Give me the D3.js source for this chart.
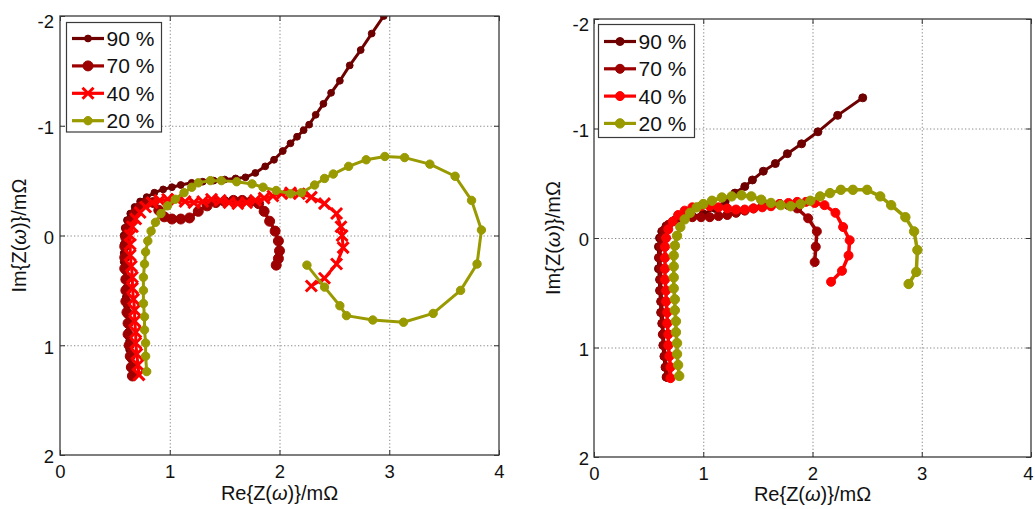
<!DOCTYPE html>
<html><head><meta charset="utf-8">
<script src="https://cdn.jsdelivr.net/npm/d3@7"></script>
<style>
body{margin:0;background:#fff;}
svg{display:block;font-family:"Liberation Sans",Arial,Helvetica,sans-serif;}
</style></head>
<body>
<svg id="chart" width="1035" height="509"></svg>
<script>
// ---------- data ----------
const seriesLabels = ["90 %", "70 %", "40 %", "20 %"];
const xTicks = [0, 1, 2, 3, 4];
const yTicks = [-2, -1, 0, 1, 2];
const xTickLabels = ["0", "1", "2", "3", "4"];
const yTickLabels = ["-2", "-1", "0", "1", "2"];

// Left panel: [Re, Im] in mOhm
const left90 = [[0.65,1.28],[0.64,1.2],[0.64,1.12],[0.63,1.04],[0.63,0.96],[0.62,0.88],[0.62,0.8],[0.61,0.72],[0.61,0.64],[0.6,0.56],[0.6,0.48],[0.59,0.4],[0.59,0.32],[0.58,0.24],[0.58,0.16],[0.58,0.08],[0.58,0.0],[0.59,-0.07],[0.61,-0.14],[0.64,-0.2],[0.68,-0.26],[0.73,-0.31],[0.79,-0.35],[0.86,-0.39],[0.94,-0.42],[1.02,-0.44],[1.1,-0.46],[1.2,-0.48],[1.3,-0.49],[1.4,-0.5],[1.5,-0.51],[1.6,-0.52],[1.69,-0.53],[1.78,-0.57],[1.87,-0.63],[1.95,-0.69],[2.03,-0.77],[2.1,-0.84],[2.16,-0.9],[2.22,-0.96],[2.27,-1.01],[2.33,-1.1],[2.4,-1.2],[2.47,-1.3],[2.55,-1.41],[2.64,-1.55],[2.74,-1.69],[2.84,-1.84],[2.95,-2.0],[3.0,-2.08]];
const left70 = [[0.66,1.28],[0.65,1.2],[0.64,1.1],[0.63,1.0],[0.62,0.9],[0.62,0.8],[0.61,0.7],[0.6,0.6],[0.6,0.5],[0.6,0.4],[0.59,0.3],[0.59,0.2],[0.59,0.1],[0.6,0.02],[0.61,-0.06],[0.64,-0.13],[0.68,-0.2],[0.73,-0.26],[0.79,-0.3],[0.85,-0.3],[0.9,-0.23],[0.95,-0.17],[1.02,-0.15],[1.1,-0.15],[1.18,-0.16],[1.26,-0.22],[1.34,-0.27],[1.42,-0.3],[1.5,-0.31],[1.58,-0.32],[1.66,-0.32],[1.74,-0.31],[1.81,-0.29],[1.86,-0.22],[1.91,-0.13],[1.96,-0.04],[1.99,0.05],[2.0,0.14],[1.99,0.21],[1.97,0.27]];
const left40 = [[0.72,1.27],[0.71,1.18],[0.7,1.08],[0.69,0.98],[0.69,0.88],[0.68,0.78],[0.68,0.68],[0.67,0.58],[0.66,0.48],[0.66,0.38],[0.65,0.28],[0.64,0.18],[0.64,0.08],[0.64,0.0],[0.66,-0.08],[0.69,-0.15],[0.73,-0.21],[0.78,-0.26],[0.84,-0.3],[0.91,-0.32],[0.98,-0.33],[1.06,-0.33],[1.14,-0.31],[1.22,-0.3],[1.3,-0.31],[1.38,-0.33],[1.46,-0.32],[1.54,-0.3],[1.62,-0.29],[1.7,-0.3],[1.78,-0.32],[1.86,-0.34],[1.94,-0.36],[2.02,-0.38],[2.1,-0.39],[2.18,-0.38],[2.29,-0.35],[2.41,-0.29],[2.52,-0.2],[2.56,-0.08],[2.57,0.0],[2.58,0.11],[2.52,0.26],[2.41,0.39],[2.29,0.46]];
const left20 = [[0.79,1.24],[0.78,1.1],[0.78,0.98],[0.77,0.86],[0.77,0.74],[0.76,0.62],[0.76,0.5],[0.76,0.38],[0.77,0.26],[0.78,0.15],[0.8,0.05],[0.83,-0.04],[0.87,-0.12],[0.92,-0.2],[0.98,-0.27],[1.05,-0.33],[1.13,-0.39],[1.2,-0.44],[1.26,-0.48],[1.37,-0.5],[1.47,-0.5],[1.61,-0.49],[1.75,-0.47],[1.85,-0.44],[1.97,-0.41],[2.1,-0.38],[2.2,-0.39],[2.32,-0.46],[2.41,-0.52],[2.49,-0.56],[2.63,-0.63],[2.79,-0.69],[2.96,-0.72],[3.14,-0.71],[3.37,-0.65],[3.6,-0.54],[3.75,-0.32],[3.84,-0.05],[3.8,0.26],[3.65,0.5],[3.4,0.71],[3.13,0.79],[2.85,0.77],[2.61,0.73],[2.55,0.64],[2.41,0.47],[2.25,0.27]];

// Right panel
const right90 = [[0.66,1.27],[0.65,1.18],[0.64,1.08],[0.63,0.98],[0.63,0.88],[0.62,0.78],[0.61,0.68],[0.61,0.58],[0.6,0.48],[0.6,0.38],[0.59,0.28],[0.59,0.18],[0.59,0.08],[0.6,0.0],[0.62,-0.06],[0.66,-0.11],[0.72,-0.15],[0.8,-0.18],[0.9,-0.2],[1.0,-0.22],[1.11,-0.27],[1.2,-0.33],[1.29,-0.41],[1.38,-0.47],[1.45,-0.53],[1.55,-0.61],[1.66,-0.68],[1.77,-0.77],[1.9,-0.86],[2.05,-0.97],[2.23,-1.12],[2.46,-1.28]];
const right70 = [[0.67,1.27],[0.66,1.18],[0.65,1.08],[0.64,0.98],[0.63,0.88],[0.63,0.78],[0.62,0.68],[0.62,0.58],[0.61,0.48],[0.61,0.38],[0.61,0.28],[0.6,0.18],[0.61,0.08],[0.62,0.0],[0.64,-0.07],[0.68,-0.12],[0.74,-0.16],[0.82,-0.18],[0.9,-0.19],[0.98,-0.19],[1.06,-0.19],[1.14,-0.2],[1.22,-0.21],[1.3,-0.23],[1.38,-0.25],[1.46,-0.27],[1.54,-0.29],[1.62,-0.3],[1.7,-0.31],[1.78,-0.3],[1.86,-0.27],[1.96,-0.18],[2.04,-0.06],[2.03,0.08],[2.02,0.22]];
const right40 = [[0.7,1.28],[0.7,1.18],[0.69,1.08],[0.68,0.98],[0.68,0.88],[0.67,0.78],[0.67,0.68],[0.66,0.58],[0.66,0.48],[0.65,0.38],[0.65,0.28],[0.65,0.18],[0.65,0.08],[0.66,0.0],[0.68,-0.08],[0.72,-0.15],[0.77,-0.21],[0.83,-0.25],[0.9,-0.28],[0.98,-0.29],[1.06,-0.29],[1.14,-0.28],[1.22,-0.27],[1.3,-0.26],[1.38,-0.26],[1.46,-0.27],[1.54,-0.28],[1.62,-0.29],[1.7,-0.31],[1.78,-0.32],[1.86,-0.33],[1.94,-0.33],[2.02,-0.32],[2.11,-0.3],[2.21,-0.23],[2.28,-0.1],[2.34,0.02],[2.33,0.16],[2.27,0.3],[2.17,0.4]];
const right20 = [[0.78,1.26],[0.77,1.16],[0.76,1.06],[0.76,0.96],[0.75,0.86],[0.75,0.76],[0.74,0.66],[0.74,0.56],[0.73,0.46],[0.73,0.36],[0.73,0.26],[0.73,0.16],[0.74,0.07],[0.76,-0.02],[0.79,-0.1],[0.83,-0.17],[0.88,-0.23],[0.94,-0.28],[1.0,-0.31],[1.08,-0.34],[1.17,-0.37],[1.26,-0.38],[1.35,-0.39],[1.44,-0.38],[1.53,-0.35],[1.62,-0.32],[1.71,-0.3],[1.8,-0.29],[1.89,-0.31],[1.98,-0.34],[2.07,-0.38],[2.16,-0.41],[2.26,-0.44],[2.37,-0.44],[2.5,-0.44],[2.62,-0.38],[2.72,-0.3],[2.85,-0.19],[2.93,-0.06],[2.96,0.11],[2.95,0.31],[2.88,0.42]];

// ---------- styles ----------
const colors = ["#6e0000", "#9c0000", "#ff0000", "#999900"];

const panels = [
  { x0: 60, x1: 499, y0: 16, y1: 455, data: [left90, left70, left40, left20],
    markers: [{t:"c",r:3.4},{t:"c",r:5},{t:"x",r:5.5},{t:"c",r:4.2}],
    widths: [3, 3.5, 3, 3],
    legend: { x: 66.5, y: 22.5, w: 95, h: 109.5, y0: 38.5, dy: 27.4 },
    ylab: 19, xlabY: 500 },
  { x0: 594, x1: 1031, y0: 19, y1: 457, data: [right90, right70, right40, right20],
    markers: [{t:"c",r:4},{t:"c",r:4.5},{t:"c",r:4.5},{t:"c",r:4.7}],
    widths: [3, 3.5, 3.5, 3.5],
    legend: { x: 598.5, y: 24.5, w: 96, h: 113, y0: 41.5, dy: 27.3 },
    ylab: 553, xlabY: 501 }
];

const svg = d3.select("#chart");

function drawMarker(g, m, color, cx, cy) {
  if (m.t === "x") {
    const r = m.r;
    g.append("path")
      .attr("d", `M${cx-r},${cy-r}L${cx+r},${cy+r}M${cx-r},${cy+r}L${cx+r},${cy-r}`)
      .attr("stroke", color).attr("stroke-width", 3).attr("fill", "none");
  } else {
    g.append("circle").attr("cx", cx).attr("cy", cy).attr("r", m.r)
      .attr("fill", color).attr("stroke", color).attr("stroke-width", 1);
  }
}

panels.forEach((p, pi) => {
  const x = d3.scaleLinear().domain([0, 4]).range([p.x0, p.x1]);
  const y = d3.scaleLinear().domain([-2, 2]).range([p.y0, p.y1]);
  const W = p.x1 - p.x0, H = p.y1 - p.y0;
  const g = svg.append("g");

  // grid
  const gx = g.append("g").attr("transform", `translate(0,${p.y1})`)
    .call(d3.axisBottom(x).tickValues([1,2,3]).tickSize(-H).tickFormat(""));
  const gy = g.append("g").attr("transform", `translate(${p.x0},0)`)
    .call(d3.axisLeft(y).tickValues([-1,0,1]).tickSize(-W).tickFormat(""));
  [gx, gy].forEach(a => {
    a.select(".domain").remove();
    a.selectAll("line").attr("stroke", "#8a8a8a").attr("stroke-width", 1).attr("stroke-dasharray", "1.3,2.2");
  });

  // clip
  const cid = "clip" + pi;
  svg.append("clipPath").attr("id", cid).append("rect")
    .attr("x", p.x0).attr("y", p.y0).attr("width", W).attr("height", H);

  const plot = g.append("g").attr("clip-path", `url(#${cid})`);
  const line = d3.line().x(d => x(d[0])).y(d => y(d[1]));
  p.data.forEach((s, si) => {
    const sg = plot.append("g");
    sg.append("path").attr("d", line(s)).attr("fill", "none")
      .attr("stroke", colors[si]).attr("stroke-width", p.widths[si]).attr("stroke-linejoin", "round");
    s.forEach(d => drawMarker(sg, p.markers[si], colors[si], x(d[0]), y(d[1])));
  });

  // axes with tick labels (MATLAB style inward ticks)
  const ax = g.append("g").attr("transform", `translate(0,${p.y1})`)
    .call(d3.axisBottom(x).tickValues(xTicks).tickSize(-5).tickPadding(10).tickFormat((d,i) => xTickLabels[i]));
  const ay = g.append("g").attr("transform", `translate(${p.x0},0)`)
    .call(d3.axisLeft(y).tickValues(yTicks).tickSize(-5).tickPadding(pi === 0 ? 6 : 5).tickFormat((d,i) => yTickLabels[i]));
  const at = g.append("g").attr("transform", `translate(0,${p.y0})`)
    .call(d3.axisTop(x).tickValues(xTicks).tickSize(-5).tickFormat(""));
  const ar = g.append("g").attr("transform", `translate(${p.x1},0)`)
    .call(d3.axisRight(y).tickValues(yTicks).tickSize(-5).tickFormat(""));
  [ax, ay, at, ar].forEach(a => {
    a.select(".domain").remove();
    a.selectAll("line").attr("stroke", "#333");
    a.selectAll("text").attr("fill", "#111").attr("font-size", 18.5)
      .attr("font-family", "'Liberation Sans',Arial,sans-serif");
  });
  ay.selectAll("text").attr("dy", (d, i) => i === 0 ? "0.62em" : "0.42em");
  // keep the last x tick label of the right panel inside the page
  if (pi === 1) ax.selectAll("text").filter(d => d === 4).attr("dx", -3);

  // box
  g.append("rect").attr("x", p.x0).attr("y", p.y0).attr("width", W).attr("height", H)
    .attr("fill", "none").attr("stroke", "#3a3a3a").attr("stroke-width", 1.3);

  // axis labels
  const xl = g.append("text").attr("x", (p.x0 + p.x1) / 2).attr("y", p.xlabY)
    .attr("text-anchor", "middle").attr("font-size", 20).attr("fill", "#111");
  xl.append("tspan").text("Re{Z(");
  xl.append("tspan").attr("font-style", "italic").text("ω");
  xl.append("tspan").text(")}/mΩ");

  const yl = g.append("text").attr("transform", `translate(${p.ylab},${(p.y0 + p.y1) / 2}) rotate(-90)`)
    .attr("text-anchor", "middle").attr("dy", "0.35em").attr("font-size", 20).attr("fill", "#111");
  yl.append("tspan").text("Im{Z(");
  yl.append("tspan").attr("font-style", "italic").text("ω");
  yl.append("tspan").text(")}/mΩ");

  // legend
  const L = p.legend;
  const lg = g.append("g");
  lg.append("rect").attr("x", L.x).attr("y", L.y).attr("width", L.w).attr("height", L.h)
    .attr("fill", "#fff").attr("stroke", "#3a3a3a").attr("stroke-width", 1.2);
  seriesLabels.forEach((lab, si) => {
    const yy = L.y0 + si * L.dy;
    const lx0 = L.x + 5.5, lx1 = L.x + 37.5;
    lg.append("line").attr("x1", lx0).attr("x2", lx1).attr("y1", yy).attr("y2", yy)
      .attr("stroke", colors[si]).attr("stroke-width", 3.2);
    drawMarker(lg, p.markers[si], colors[si], (lx0 + lx1) / 2, yy);
    lg.append("text").attr("x", L.x + 40).attr("y", yy).attr("dy", "0.36em")
      .attr("font-size", 21).attr("fill", "#111").text(lab);
  });
});
</script>
</body></html>
